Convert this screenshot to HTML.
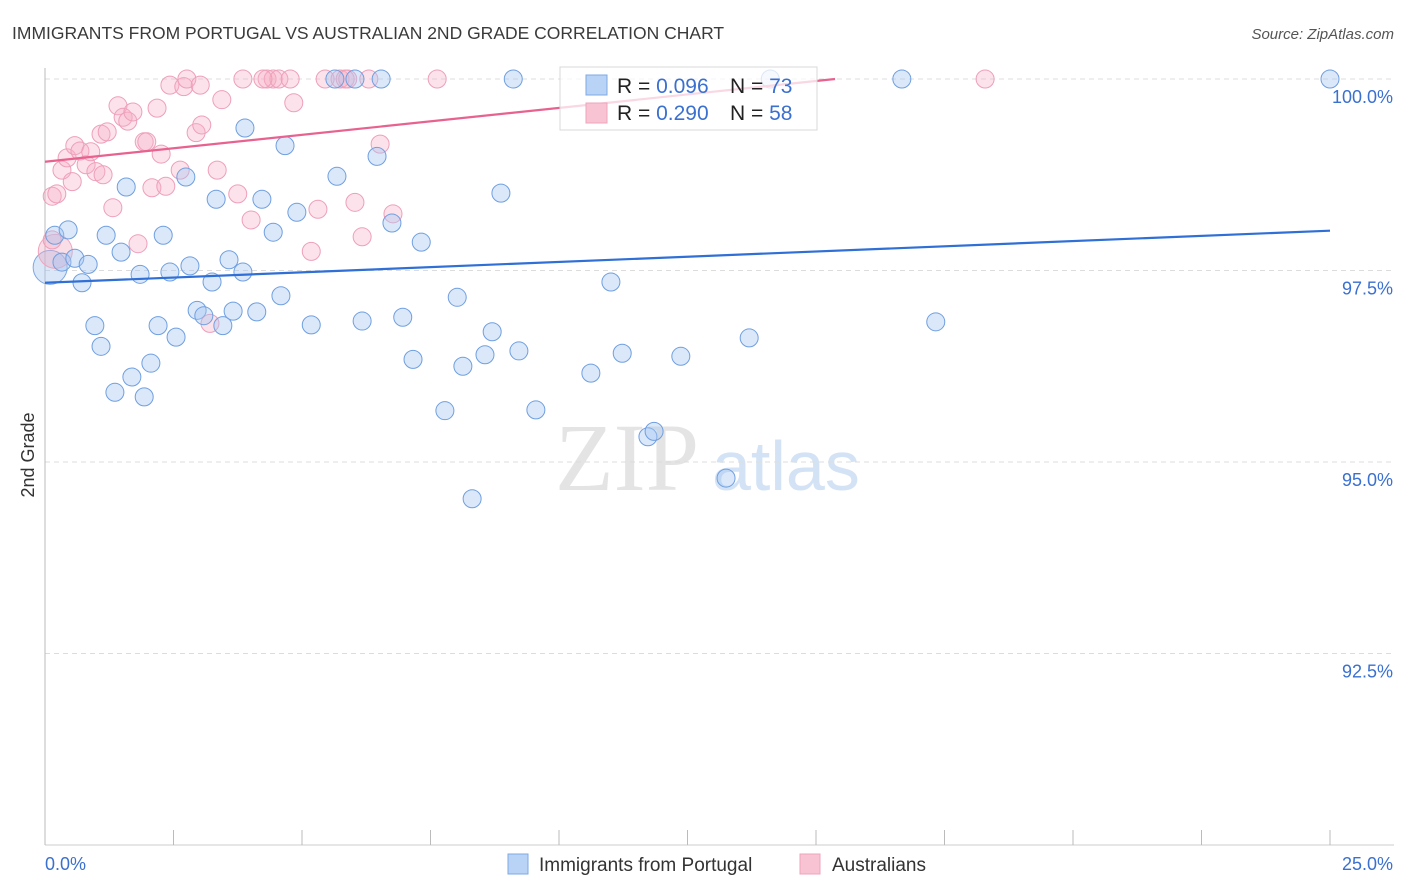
<!DOCTYPE html>
<html><head><meta charset="utf-8"><style>
body{margin:0;background:#fff;font-family:"Liberation Sans",sans-serif}
svg{display:block}
</style></head><body>
<svg id="chart" width="1406" height="892" xmlns="http://www.w3.org/2000/svg">
<text x="12" y="39" font-size="17.5" fill="#3a3a3a">IMMIGRANTS FROM PORTUGAL VS AUSTRALIAN 2ND GRADE CORRELATION CHART</text>
<text x="1394" y="39" font-size="15" fill="#555" font-style="italic" text-anchor="end">Source: ZipAtlas.com</text>
<g>
<text x="555" y="490" font-size="96" font-family="Liberation Serif" fill="#e4e4e4">ZIP</text>
<text x="712" y="490" font-size="70" fill="#d3e3f5">atlas</text>
</g>
<g id="grid"></g>
<g id="axes"></g>
<g id="pts"></g>
<g id="trends"></g>
<g>
<rect x="560" y="67" width="257" height="63" fill="rgba(255,255,255,0.75)" stroke="#d8d8d8"/>
<rect x="586" y="75" width="21" height="20" fill="#b8d3f5" stroke="#7ea9e3"/>
<rect x="586" y="103" width="21" height="20" fill="#f8c3d3" stroke="#eea5bd"/>
<text x="617" y="93" font-size="21" fill="#222">R = <tspan fill="#3a70d0">0.096</tspan><tspan x="730">N = </tspan><tspan fill="#3a70d0">73</tspan></text>
<text x="617" y="120" font-size="21" fill="#222">R = <tspan fill="#3a70d0">0.290</tspan><tspan x="730">N = </tspan><tspan fill="#3a70d0">58</tspan></text>
</g>
<g>
<rect x="508" y="854" width="20" height="20" fill="#b8d3f5" stroke="#7ea9e3"/>
<text x="539" y="871" font-size="19" fill="#333">Immigrants from Portugal</text>
<rect x="800" y="854" width="20" height="20" fill="#f8c3d3" stroke="#eea5bd"/>
<text x="832" y="871" font-size="19" fill="#333">Australians</text>
</g>
<text transform="translate(34,455) rotate(-90)" font-size="18" fill="#333" text-anchor="middle">2nd Grade</text>
</svg>
<script>
const blueX=[0.19,0.45,0.33,0.58,0.84,0.72,0.97,1.09,1.36,1.58,1.19,1.48,1.85,1.69,1.93,2.06,2.20,2.30,2.43,2.55,2.74,2.82,2.96,3.09,3.25,3.33,3.46,3.58,3.66,3.85,3.89,4.12,4.22,4.44,4.59,4.67,4.90,5.18,5.68,6.17,6.46,6.75,6.96,7.16,7.32,7.78,8.02,8.13,8.31,8.56,8.70,8.87,9.22,9.55,10.62,11.01,11.23,11.73,11.85,12.37,13.25,13.70,17.33,5.64,6.03,6.54,9.11,14.11,16.67,25.0];
const blueY=[97.96,98.03,97.61,97.66,97.58,97.34,96.78,96.51,95.91,98.59,97.96,97.74,97.45,96.11,95.85,96.29,96.78,97.96,97.48,96.63,98.72,97.56,96.98,96.91,97.35,98.43,96.78,97.64,96.97,97.48,99.36,96.96,98.43,98.00,97.17,99.13,98.26,96.79,98.73,96.84,98.99,98.12,96.89,96.34,97.87,95.67,97.15,96.25,94.52,96.40,96.70,98.51,96.45,95.68,96.16,97.35,96.42,95.33,95.40,96.38,94.79,96.62,96.83,100,100,100,100,100,100,100];
const pinkX=[0.14,0.23,0.33,0.43,0.53,0.58,0.68,0.80,0.89,0.99,1.13,1.09,1.21,1.32,1.42,1.52,1.61,1.71,1.81,1.93,1.98,2.08,2.18,2.26,2.35,2.43,2.63,2.70,2.76,2.94,3.02,3.05,3.21,3.35,3.44,3.75,3.85,4.01,4.32,4.44,4.55,4.77,4.84,5.18,5.31,5.45,5.74,5.84,5.89,6.03,6.17,6.30,6.52,6.77,7.63,18.29,0.14,4.24];
const pinkY=[98.47,98.50,98.81,98.97,98.66,99.13,99.06,98.88,99.05,98.79,98.75,99.28,99.31,98.32,99.65,99.50,99.45,99.57,97.85,99.18,99.18,98.58,99.62,99.02,98.60,99.92,98.81,99.90,100,99.30,99.92,99.40,96.81,98.81,99.73,98.50,100,98.16,100,100,100,100,99.69,97.75,98.30,100,100,100,100,98.39,97.94,100,99.15,98.24,100,100,97.90,100];
const blueTrend=[97.34,98.02];
const pinkTrend=[98.92,1.08/15.37];
const yTicks=[100,97.5,95,92.5];
const yTickLabels=["100.0%","97.5%","95.0%","92.5%"];
const xTickLabels=["0.0%","25.0%"];
const NS="http://www.w3.org/2000/svg";
const L=45,R=1330,T=79,B=845;
const sx=v=>L+(v/25)*(R-L);
const sy=v=>B-(v-90)/10*(B-T);
function mk(tag,attrs,parent){const e=document.createElementNS(NS,tag);for(const k in attrs)e.setAttribute(k,attrs[k]);parent.appendChild(e);return e;}
const grid=document.getElementById('grid'),axes=document.getElementById('axes'),pts=document.getElementById('pts'),tr=document.getElementById('trends');
yTicks.forEach((t,i)=>{
 const g=mk('line',{x1:L,x2:1394,y1:sy(t),y2:sy(t),stroke:'#dcdcdc','stroke-dasharray':'5,4'},grid);
 
 
 const tx=mk('text',{x:1393,y:sy(t)+24,'font-size':18,fill:'#3a70d0','text-anchor':'end'},axes);
 tx.textContent=yTickLabels[i];
 
 
});
mk('line',{x1:L,x2:L,y1:68,y2:B,stroke:'#bbb'},axes);
mk('line',{x1:L,x2:1394,y1:B,y2:B,stroke:'#ccc'},axes);
for(let i=0;i<=10;i++){const x=sx(i*2.5);mk('line',{x1:x,x2:x,y1:830,y2:B,stroke:'#bbb'},axes);}
const xl0=mk('text',{x:45,y:870,'font-size':18,fill:'#3a70d0'},axes);xl0.textContent=xTickLabels[0];


const xl1=mk('text',{x:1393,y:870,'font-size':18,fill:'#3a70d0','text-anchor':'end'},axes);xl1.textContent=xTickLabels[1];


const bb=mk('circle',{cx:sx(0.1),cy:sy(97.54),r:17,fill:'rgba(160,196,240,0.4)',stroke:'#7ea9e3'},pts);


const pb=mk('circle',{cx:sx(0.2),cy:sy(97.75),r:17,fill:'rgba(240,170,195,0.4)',stroke:'#eea5bd'},pts);


pinkX.forEach((x,i)=>{const c=mk('circle',{cx:sx(x),cy:sy(pinkY[i]),r:9,fill:'rgba(245,175,198,0.35)',stroke:'#ee9fba','stroke-width':1},pts);
 
 });
blueX.forEach((x,i)=>{const c=mk('circle',{cx:sx(x),cy:sy(blueY[i]),r:9,fill:'rgba(165,198,242,0.4)',stroke:'#6f9fe0','stroke-width':1},pts);
 
 });
const bl=mk('line',{x1:sx(0),y1:sy(blueTrend[0]),x2:sx(25),y2:sy(blueTrend[1]),stroke:'#2f6fd6','stroke-width':2.2},tr);


const xEnd=(100-pinkTrend[0])/pinkTrend[1];
const pl=mk('line',{x1:sx(0),y1:sy(pinkTrend[0]),x2:sx(xEnd),y2:sy(100),stroke:'#e8628f','stroke-width':2.2},tr);


</script>
</body></html>
